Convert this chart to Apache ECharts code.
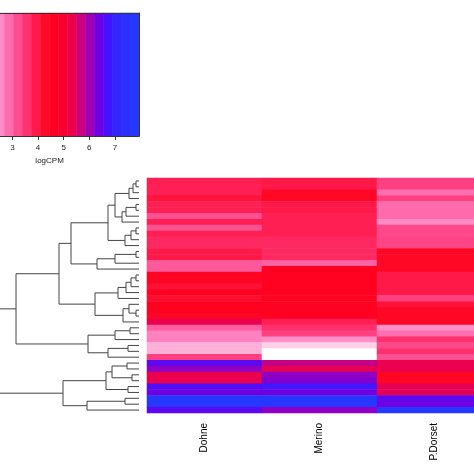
<!DOCTYPE html>
<html><head><meta charset="utf-8">
<script src="https://cdn.jsdelivr.net/npm/echarts@6/dist/echarts.min.js"></script>
<style>html,body{margin:0;padding:0;background:#fff}#c{width:474px;height:474px}</style>
</head><body><div id="c"></div>
<script>
// ---- data ----
const columns = ['Dohne', 'Merino', 'P.Dorset'];
const dohne   = [3.85,3.85,3.85,4.05,3.85,3.85,3.2,3.85,3.2,3.85,3.7,3.7,3.95,3.95,3.1,3.1,4.5,4.5,4.15,4.55,4.2,4.55,4.55,4.4,5.35,3.05,2.65,2.65,2.175,2.175,3.4,6.55,6.15,5.35,5.35,6.65,6.375,7.775,7.775,6.55];
const merino  = [3.95,3.95,4.35,4.35,3.95,3.95,3.85,3.85,3.85,3.85,3.7,3.7,3.7,3.7,3.0,4.6,4.6,4.6,4.6,4.6,4.55,4.6,4.6,4.6,3.85,3.6,3.4,2.5,1.825,1.125,1.125,5.75,5.4,6.15,6.25,6.8,6.375,7.775,7.775,6.15];
const pdorset = [3.4,3.4,2.85,3.4,2.9,2.9,2.9,2.55,3.3,3.3,3.35,3.35,4.35,4.35,4.35,4.35,3.95,3.95,3.95,3.95,3.4,4.1,4.35,4.35,4.35,2.5,2.85,3.6,3.3,3.6,3.2,5.35,5.35,4.4,4.4,5.4,5.4,6.55,6.375,7.775];
// colour key: bin centres (logCPM) and their colours
const keyValues = [1.125,1.475,1.825,2.175,2.525,2.875,3.225,3.575,3.925,4.275,4.625,4.975,5.325,5.675,6.025,6.375,6.725,7.075,7.425,7.775];
const keyColors = ['#ffffff','#ffeaf5','#ffd0e8','#ffb0d8','#ff8cc8','#ff6cae','#ff4e90','#ff3270','#ff1a4a','#ff0a28','#ff0020','#fa0030','#ec004c','#cc007c','#a000b4','#7000e0','#4412ff','#3228ff','#2c30ff','#2638ff'];
const keyRange = [0.95, 7.95];
const keyTicks = [3, 4, 5, 6, 7];
const keyTitle = 'logCPM';
// row dendrogram: [height, left, right]; leaves are row indices
const dendrogram = [143,
  [123,
    [80,
      [68,
        [31,
          [24, [10, [6, [3, 0, 1], 2], 3], [17, [13, [3, 4, 5], 6], 7]],
          [14, [8, [3, 8, 9], 10], 11]],
        [42, [24, [3, 12, 13], 14], 15]],
      [44,
        [21, [13, [8, [3, 16, 17], 18], 19], 20],
        [16, [10, 21, [3, 22, 23]], 24]]],
    [51, [24, [9, 25, 26], 27], [31, [11, 28, 29], 30]]],
  [76,
    [33, [27, [12, 31, 32], [7, 33, 34]], [11, 35, 36]],
    [52, [14, 37, 38], 39]]];

// ---- build ----
const nRows = dohne.length;
const rowNames = Array.from({length: nRows}, (_, i) => 'r' + (i + 1));
const cols = [dohne, merino, pdorset];
const heatData = [];
cols.forEach((arr, c) => arr.forEach((v, r) => heatData.push([c, r, v])));
const keyData = keyValues.map((v, i) => [i, 0, v]);

const segs = [];
function walk(node) {
  if (typeof node === 'number') return {h: 0, y: node};
  const L = walk(node[1]), R = walk(node[2]);
  segs.push([node[0], L.y, R.y, L.h, R.h]);
  return {h: node[0], y: (L.y + R.y) / 2};
}
walk(dendrogram);

const font = 'Liberation Sans, Arial, sans-serif';
const chart = echarts.init(document.getElementById('c'), null, {renderer: 'canvas'});
chart.setOption({
  animation: false,
  backgroundColor: '#ffffff',
  grid: [
    {left: 147, top: 178, width: 345, height: 235, outerBoundsMode: 'none', containLabel: false},
    {left: -7, top: 178, width: 146, height: 235, outerBoundsMode: 'none', containLabel: false},
    {left: -40, top: 13, width: 179.2, height: 123, outerBoundsMode: 'none', containLabel: false}
  ],
  xAxis: [
    {type: 'category', gridIndex: 0, data: columns, axisLine: {show: false}, axisTick: {show: false},
     axisLabel: {rotate: 90, fontSize: 10, color: '#000', margin: 10, fontFamily: font}},
    {type: 'value', gridIndex: 1, min: 0, max: 146, inverse: true, show: false},
    {type: 'category', gridIndex: 2, data: keyValues.map(String), show: false},
    {type: 'value', gridIndex: 2, min: keyRange[0], max: keyRange[1], position: 'bottom', z: 5,
     axisLine: {show: true, lineStyle: {color: '#333', width: 1}},
     axisTick: {show: true, customValues: keyTicks, length: 4, lineStyle: {color: '#333'}},
     axisLabel: {customValues: keyTicks, fontSize: 8, color: '#222', margin: 8, fontFamily: font},
     splitLine: {show: false},
     name: keyTitle, nameLocation: 'middle', nameGap: 21, nameTextStyle: {fontSize: 8, color: '#222', fontFamily: font}},
    {type: 'value', gridIndex: 2, min: keyRange[0], max: keyRange[1], position: 'top', z: 5,
     axisLine: {show: true, lineStyle: {color: '#333', width: 1}}, axisTick: {show: false}, axisLabel: {show: false}, splitLine: {show: false}}
  ],
  yAxis: [
    {type: 'category', gridIndex: 0, data: rowNames, inverse: true, show: false},
    {type: 'value', gridIndex: 1, min: -0.5, max: nRows - 0.5, inverse: true, show: false},
    {type: 'category', gridIndex: 2, data: ['key'], show: false},
    {type: 'value', gridIndex: 2, min: 0, max: 1, position: 'right', z: 5,
     axisLine: {show: true, lineStyle: {color: '#333', width: 1}}, axisTick: {show: false}, axisLabel: {show: false}, splitLine: {show: false}}
  ],
  visualMap: {
    type: 'continuous', show: false, dimension: 2, seriesIndex: [0, 2],
    min: keyValues[0], max: keyValues[keyValues.length - 1],
    inRange: {color: keyColors}
  },
  series: [
    {type: 'heatmap', xAxisIndex: 0, yAxisIndex: 0, data: heatData, itemStyle: {borderWidth: 0}},
    {type: 'custom', xAxisIndex: 1, yAxisIndex: 1, data: segs, clip: false,
     renderItem: function (params, api) {
       const h = api.value(0), yl = api.value(1), yr = api.value(2), hl = api.value(3), hr = api.value(4);
       const pts = [api.coord([hl, yl]), api.coord([h, yl]), api.coord([h, yr]), api.coord([hr, yr])];
       return {type: 'polyline', shape: {points: pts}, style: {stroke: '#444', lineWidth: 1, fill: null}};
     }},
    {type: 'heatmap', xAxisIndex: 2, yAxisIndex: 2, data: keyData, itemStyle: {borderWidth: 0}}
  ]
});
</script></body></html>
